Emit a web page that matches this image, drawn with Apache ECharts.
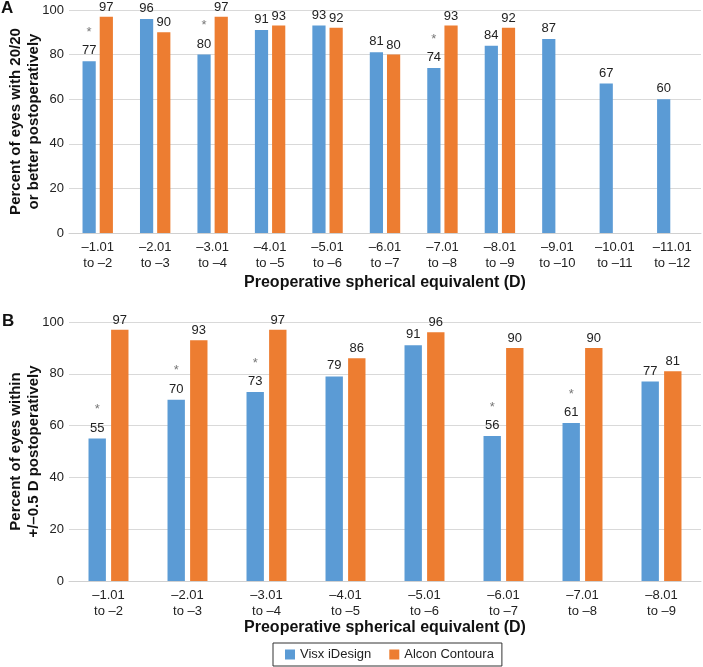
<!DOCTYPE html>
<html><head><meta charset="utf-8">
<script src="https://cdn.jsdelivr.net/npm/echarts@6/dist/echarts.min.js"></script>
<style>html,body{margin:0;padding:0;background:#fff}#c{width:703px;height:667px}</style>
</head><body><div id="c"></div>
<script>
var seriesNames = ['Visx iDesign', 'Alcon Contoura'];
var catsA = ['–1.01\nto –2','–2.01\nto –3','–3.01\nto –4','–4.01\nto –5','–5.01\nto –6','–6.01\nto –7','–7.01\nto –8','–8.01\nto –9','–9.01\nto –10','–10.01\nto –11','–11.01\nto –12'];
var visxA = [77, 96, 80, 91, 93, 81, 74, 84, 87, 67, 60];
var alconA = [97, 90, 97, 93, 92, 80, 93, 92, null, null, null];
var sigA = [1, 0, 1, 0, 0, 0, 1, 0, 0, 0, 0];
var catsB = ['–1.01\nto –2','–2.01\nto –3','–3.01\nto –4','–4.01\nto –5','–5.01\nto –6','–6.01\nto –7','–7.01\nto –8','–8.01\nto –9'];
var visxB = [55, 70, 73, 79, 91, 56, 61, 77];
var alconB = [97, 93, 97, 86, 96, 90, 90, 81];
var sigB = [1, 1, 1, 0, 0, 1, 1, 0];
var yTicks = [0, 20, 40, 60, 80, 100];

var BLUE = '#5B9BD5', ORANGE = '#ED7D31';
var FONT = 'Liberation Sans, Arial, sans-serif';

function sigLabel(sig) {
  return {
    show: true, position: 'top', distance: 3, color: '#222', fontSize: 13, fontFamily: FONT,
    formatter: function (p) { return sig[p.dataIndex] ? '{s|*}\n' + p.value : '' + p.value; },
    rich: { s: { color: '#777', fontSize: 13, lineHeight: 22, fontFamily: FONT } },
    lineHeight: 15
  };
}
var plainLabel = { show: true, position: 'top', distance: 3, color: '#222', fontSize: 13, fontFamily: FONT };

function xAxis(idx, cats, gap) {
  return {
    type: 'category', gridIndex: idx, data: cats,
    axisLine: { lineStyle: { color: '#d0d0d0' } }, axisTick: { show: false },
    axisLabel: { color: '#222', fontSize: 13, fontFamily: FONT, lineHeight: 16, margin: 6, interval: 0 },
    name: 'Preoperative spherical equivalent (D)', nameLocation: 'middle', nameGap: gap,
    nameTextStyle: { color: '#111', fontSize: 16, fontWeight: 'bold', fontFamily: FONT }
  };
}
function yAxis(idx, name) {
  return {
    type: 'value', gridIndex: idx, min: yTicks[0], max: yTicks[yTicks.length - 1], interval: 20,
    axisLine: { show: false }, axisTick: { show: false },
    splitLine: { lineStyle: { color: '#d9d9d9' } },
    axisLabel: { color: '#222', fontSize: 13, fontFamily: FONT, margin: 5 },
    name: name, nameLocation: 'middle', nameGap: 26, nameRotate: 90, nameMoveOverlap: false,
    nameTextStyle: { color: '#111', fontSize: 15, fontWeight: 'bold', fontFamily: FONT, lineHeight: 18 }
  };
}

var chart = echarts.init(document.getElementById('c'), null, { renderer: 'canvas' });
chart.setOption({
  animation: false,
  textStyle: { fontFamily: FONT },
  graphic: [
    { type: 'text', left: 1, top: 0, style: { text: 'A', fontSize: 17, fontWeight: 'bold', fill: '#111', fontFamily: FONT } },
    { type: 'text', left: 2, top: 313, style: { text: 'B', fontSize: 17, fontWeight: 'bold', fill: '#111', fontFamily: FONT } }
  ],
  legend: {
    data: seriesNames, left: 273, bottom: 1, itemWidth: 10, itemHeight: 10, itemGap: 18,
    icon: 'rect', borderColor: '#333', borderWidth: 1, padding: [5, 8, 5, 12],
    textStyle: { color: '#222', fontSize: 13, fontFamily: FONT }
  },
  grid: [
    { left: 69, right: 2, top: 10, height: 223, outerBoundsMode: 'none', containLabel: false },
    { left: 69, right: 2, top: 322, height: 259, outerBoundsMode: 'none', containLabel: false }
  ],
  xAxis: [xAxis(0, catsA, 42), xAxis(1, catsB, 39)],
  yAxis: [yAxis(0, 'Percent of eyes with 20/20\nor better postoperatively'), yAxis(1, 'Percent of eyes within\n+/–0.5 D postoperatively')],
  series: [
    { name: seriesNames[0], type: 'bar', xAxisIndex: 0, yAxisIndex: 0, data: visxA, itemStyle: { color: BLUE }, barWidth: '23%', barGap: '30%', label: sigLabel(sigA) },
    { name: seriesNames[1], type: 'bar', xAxisIndex: 0, yAxisIndex: 0, data: alconA, itemStyle: { color: ORANGE }, barWidth: '23%', barGap: '30%', label: plainLabel },
    { name: seriesNames[0], type: 'bar', xAxisIndex: 1, yAxisIndex: 1, data: visxB, itemStyle: { color: BLUE }, barWidth: '22%', barGap: '30%', label: sigLabel(sigB) },
    { name: seriesNames[1], type: 'bar', xAxisIndex: 1, yAxisIndex: 1, data: alconB, itemStyle: { color: ORANGE }, barWidth: '22%', barGap: '30%', label: plainLabel }
  ]
});
</script></body></html>
